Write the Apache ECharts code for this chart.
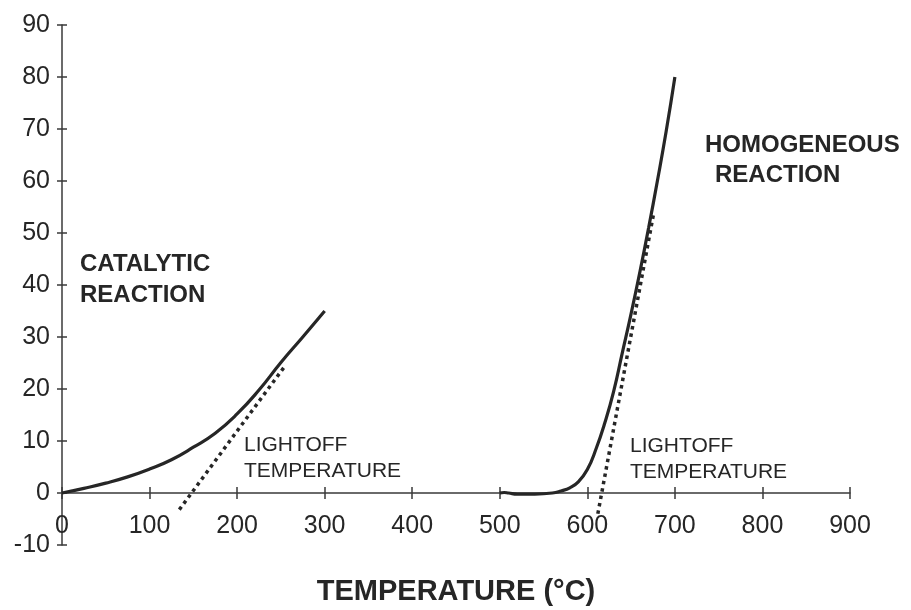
<!DOCTYPE html>
<html>
<head>
<meta charset="utf-8">
<script src="https://cdn.jsdelivr.net/npm/echarts@6/dist/echarts.min.js"></script>
<style>
html,body{margin:0;padding:0;background:#fff;}
#chart{width:911px;height:610px;}
</style>
</head>
<body>
<div id="chart"></div>
<script>
// Data
const catalyticCurve = [
  [0,0],[25,0.9],[50,1.9],[75,3.1],[100,4.6],[125,6.4],[150,8.8],[175,11.5],
  [200,15.2],[225,19.8],[250,25.1],[275,30],[300,35]
];
const homogeneousCurve = [
  [500,0],[505,0.1],[510,0],[520,-0.2],[540,-0.2],[560,0],[570,0.4],[580,1],
  [590,2.2],[600,4.5],[610,8.5],[620,13.5],[630,19.5],[640,27],[650,34.5],
  [660,42.5],[670,51],[680,60],[690,69.5],[700,80]
];
const catalyticTangent = [[134,-3.2],[255,24.5]];
const homogeneousTangent = [[612,-4],[676,54]];
const xTicks = {min:0, max:900, interval:100};
const yTicks = {min:-10, max:90, interval:10};
const xTitle = 'TEMPERATURE (°C)';
const annotations = [
  {text:'CATALYTIC', x:80, y:264, bold:true},
  {text:'REACTION', x:80, y:295, bold:true},
  {text:'HOMOGENEOUS', x:705, y:145, bold:true},
  {text:'REACTION', x:715, y:175, bold:true},
  {text:'LIGHTOFF', x:244, y:445, bold:false},
  {text:'TEMPERATURE', x:244, y:471, bold:false},
  {text:'LIGHTOFF', x:630, y:446, bold:false},
  {text:'TEMPERATURE', x:630, y:472, bold:false}
];

const FONT = '"Liberation Sans", Arial, Helvetica, sans-serif';
const INK = '#262626';
const chart = echarts.init(document.getElementById('chart'));

const solid = {color: INK, width: 3.2};
const dotted = {color: INK, width: 3.5, type: [3.5, 4], cap: 'butt'};

chart.setOption({
  animation: false,
  backgroundColor: '#ffffff',
  grid: {left: 62, right: 61, top: 25, bottom: 65, containLabel: false, outerBoundsMode: 'none'},
  xAxis: [{
    type: 'value', min: xTicks.min, max: xTicks.max, interval: xTicks.interval,
    position: 'bottom',
    axisLine: {show: true, onZero: true, lineStyle: {color: '#3a3a3a', width: 1.5}},
    axisTick: {show: true, inside: false, length: 6, lineStyle: {color: '#3a3a3a', width: 1.5}},
    axisLabel: {show: true, margin: -31, color: INK, fontSize: 25, fontFamily: FONT},
    splitLine: {show: false},
    name: xTitle, nameLocation: 'middle', nameGap: 32,
    nameTextStyle: {color: INK, fontSize: 29, fontWeight: 'bold', fontFamily: FONT}
  }, {
    type: 'value', min: xTicks.min, max: xTicks.max, interval: xTicks.interval,
    position: 'bottom',
    axisLine: {show: false, onZero: true, onZeroAxisIndex: 0},
    axisTick: {show: true, inside: true, length: 6, lineStyle: {color: '#3a3a3a', width: 1.5}},
    axisLabel: {show: false},
    splitLine: {show: false}
  }],
  yAxis: [{
    type: 'value', min: yTicks.min, max: yTicks.max, interval: yTicks.interval,
    position: 'left',
    axisLine: {show: true, onZero: false, lineStyle: {color: '#3a3a3a', width: 1.5}},
    axisTick: {show: true, inside: false, length: 5, lineStyle: {color: '#3a3a3a', width: 1.5}},
    axisLabel: {show: true, margin: 12, color: INK, fontSize: 25, fontFamily: FONT},
    splitLine: {show: false}
  }, {
    type: 'value', min: yTicks.min, max: yTicks.max, interval: yTicks.interval,
    position: 'left',
    axisLine: {show: false, onZero: false},
    axisTick: {show: true, inside: true, length: 5, lineStyle: {color: '#3a3a3a', width: 1.5}},
    axisLabel: {show: false},
    splitLine: {show: false}
  }],
  series: [
    {type: 'line', name: 'Catalytic', data: catalyticCurve, smooth: 0.5, showSymbol: false, lineStyle: solid, z: 3},
    {type: 'line', name: 'Homogeneous', data: homogeneousCurve, smooth: 0.5, showSymbol: false, lineStyle: solid, z: 3},
    {type: 'line', name: 'Catalytic lightoff', data: catalyticTangent, showSymbol: false, lineStyle: dotted, z: 2},
    {type: 'line', name: 'Homogeneous lightoff', data: homogeneousTangent, showSymbol: false, lineStyle: dotted, z: 2}
  ],
  graphic: annotations.map(a => ({
    type: 'text', x: a.x, y: a.y, z: 10,
    style: {
      text: a.text, fill: INK,
      font: (a.bold ? 'bold 24px ' : '21px ') + FONT,
      textAlign: 'left', textVerticalAlign: 'middle', verticalAlign: 'middle'
    }
  }))
});
</script>
</body>
</html>
